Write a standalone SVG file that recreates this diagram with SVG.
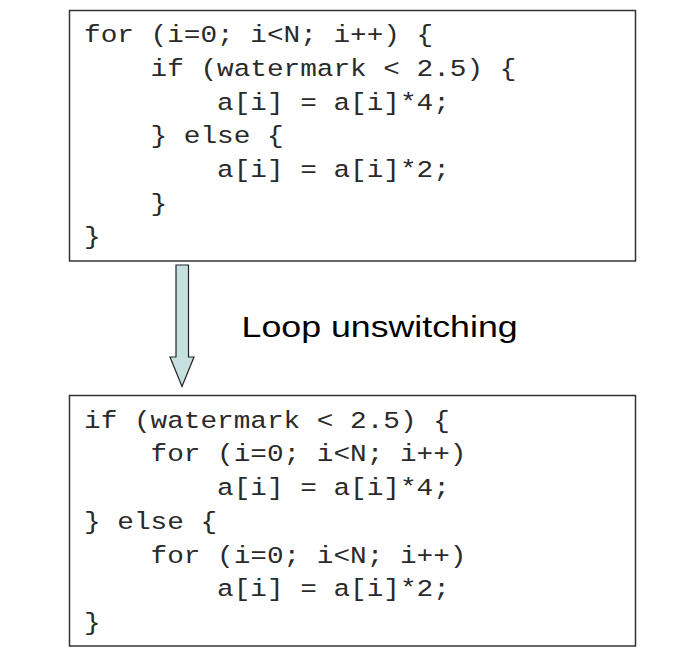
<svg xmlns="http://www.w3.org/2000/svg" width="694" height="658" viewBox="0 0 694 658">
<style>
.box{fill:#fff;stroke:#333;stroke-width:1.5}
.code{font-family:"Liberation Mono","Courier New",monospace;font-size:23.1px;fill:#2a2a2a}
.lbl{font-family:"Liberation Sans",Arial,sans-serif;font-size:30.3px;fill:#000}
.arrow{fill:#c6e0e0;stroke:#222;stroke-width:1.2;stroke-linejoin:miter}
</style>
<rect width="694" height="658" fill="#fff"/>
<g id="top-box">
<rect class="box" x="69.5" y="10.5" width="566" height="250.5"/>
<g class="code" transform="translate(84,0) scale(1.2,1)">
<text x="0" y="42.3">for (i=0; i&lt;N; i++) {</text>
<text x="55.44" y="76">if (watermark &lt; 2.5) {</text>
<text x="110.88" y="109.7">a[i] = a[i]*4;</text>
<text x="55.44" y="143.4">} else {</text>
<text x="110.88" y="177.1">a[i] = a[i]*2;</text>
<text x="55.44" y="210.8">}</text>
<text x="0" y="244.5">}</text>
</g>
</g>
<g id="bottom-box">
<rect class="box" x="69.5" y="395.5" width="566" height="250.5"/>
<g class="code" transform="translate(84,0) scale(1.2,1)">
<text x="0" y="427.8">if (watermark &lt; 2.5) {</text>
<text x="55.44" y="461.5">for (i=0; i&lt;N; i++)</text>
<text x="110.88" y="495.2">a[i] = a[i]*4;</text>
<text x="0" y="528.9">} else {</text>
<text x="55.44" y="562.6">for (i=0; i&lt;N; i++)</text>
<text x="110.88" y="596.3">a[i] = a[i]*2;</text>
<text x="0" y="630">}</text>
</g>
</g>
<g id="connectors">
<polygon class="arrow" points="176,265 188.5,265 188.5,357 194,357 182,386.5 170,357 176,357"/>
</g>
<g id="label">
<text class="lbl" transform="translate(241.5,337) scale(1.18,1)" x="0" y="0">Loop unswitching</text>
</g>
</svg>
